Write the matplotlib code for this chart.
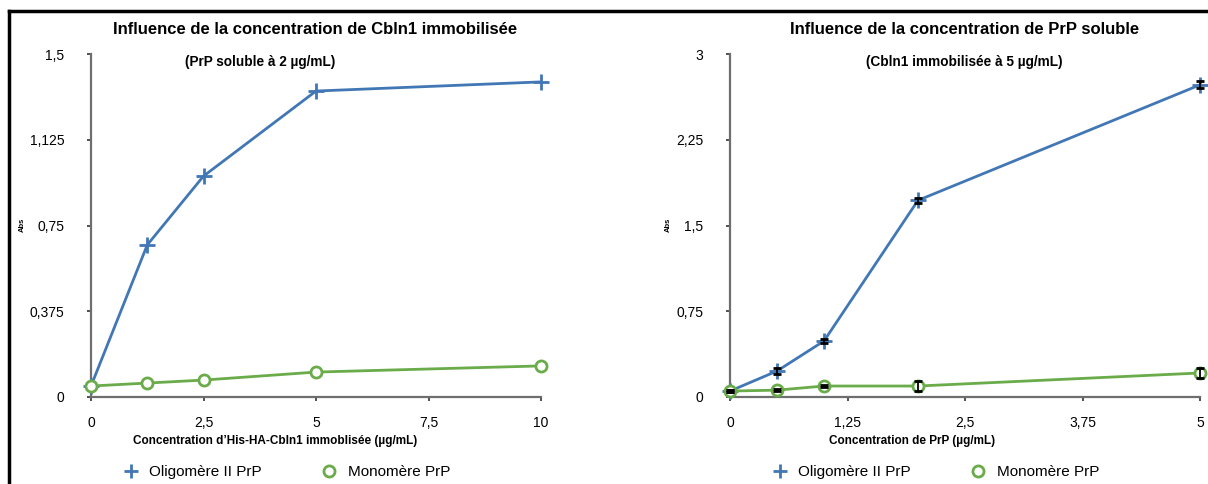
import numpy as np
import matplotlib
matplotlib.use("Agg")
import matplotlib.pyplot as plt
from matplotlib.lines import Line2D

plt.rcParams['font.family'] = ['Liberation Sans', 'DejaVu Sans']

# ======= Data =======
# left panel: immobilised Cbln1 concentration
x_cbln1 = [0, 1.25, 2.5, 5, 10]
oligo_cbln1 = [0.048, 0.665, 0.966, 1.338, 1.378]
mono_cbln1 = [0.048, 0.061, 0.074, 0.109, 0.136]

# right panel: soluble PrP concentration
x_prp = [0, 0.5, 1, 2, 5]
oligo_prp = [0.052, 0.227, 0.49, 1.72, 2.73]
oligo_prp_err = [0.01, 0.03, 0.02, 0.02, 0.03]
mono_prp = [0.052, 0.06, 0.096, 0.096, 0.21]
mono_prp_err = [0.01, 0.01, 0.01, 0.04, 0.04]

left_yticks = [0, 0.375, 0.75, 1.125, 1.5]
left_yticklabels = ['0', '0,375', '0,75', '1,125', '1,5']
left_xticks = [0, 2.5, 5, 7.5, 10]
left_xticklabels = ['0', '2,5', '5', '7,5', '10']

right_yticks = [0, 0.75, 1.5, 2.25, 3]
right_yticklabels = ['0', '0,75', '1,5', '2,25', '3']
right_xticks = [0, 1.25, 2.5, 3.75, 5]
right_xticklabels = ['0', '1,25', '2,5', '3,75', '5']

blue = '#4277b6'
green = '#6aab4a'
spine_col = '#6e6e6e'

fig = plt.figure(figsize=(12.08, 4.84), dpi=100)
W, H = 1208, 484

def px_axes(x0, x1, y0, y1):
    return fig.add_axes([x0 / W, 1 - y1 / H, (x1 - x0) / W, (y1 - y0) / H])

ax1 = px_axes(91, 541, 54, 397)
ax2 = px_axes(730, 1200, 54, 397)

def style(ax, xt, xtl, yt, ytl, xmax, ymax):
    for s in ['top', 'right']:
        ax.spines[s].set_visible(False)
    for s in ['left', 'bottom']:
        ax.spines[s].set_color(spine_col)
        ax.spines[s].set_linewidth(1.6)
    ax.set_xlim(0, xmax)
    ax.set_ylim(0, ymax)
    ax.set_xticks(xt)
    ax.set_xticklabels(xtl)
    ax.set_yticks(yt)
    ax.set_yticklabels(ytl)
    ax.tick_params(axis='both', direction='out', length=3, width=1.2,
                   color='#333333', labelsize=10)
    ax.tick_params(axis='y', pad=16)
    ax.tick_params(axis='x', pad=11)

style(ax1, left_xticks, left_xticklabels, left_yticks, left_yticklabels, 10, 1.5)
style(ax2, right_xticks, right_xticklabels, right_yticks, right_yticklabels, 5, 3)

# left panel
ax1.plot(x_cbln1, oligo_cbln1, color=blue, lw=2, marker='+', ms=11, mew=2, clip_on=False, zorder=3)
ax1.plot(x_cbln1, mono_cbln1, color=green, lw=2, marker='o', ms=8, mew=2,
         mfc='white', clip_on=False, zorder=4)

# right panel with error bars
ax2.plot(x_prp, oligo_prp, color=blue, lw=2, marker='+', ms=11, mew=2, clip_on=False, zorder=3)
ax2.errorbar(x_prp, oligo_prp, yerr=oligo_prp_err, fmt='none', ecolor='black',
             elinewidth=1.3, capsize=3, capthick=2, clip_on=False, zorder=5)
ax2.plot(x_prp, mono_prp, color=green, lw=2, marker='o', ms=8, mew=2,
         mfc='white', clip_on=False, zorder=4)
ax2.errorbar(x_prp, mono_prp, yerr=mono_prp_err, fmt='none', ecolor='black',
             elinewidth=1.3, capsize=3, capthick=2, clip_on=False, zorder=5)

# titles, subtitles, axis labels
fig.text(315 / W, 1 - 29 / H, 'Influence de la concentration de Cbln1 immobilisée',
         ha='center', va='center', fontsize=12, fontweight='bold')
fig.text(965 / W, 1 - 29 / H, 'Influence de la concentration de PrP soluble',
         ha='center', va='center', fontsize=12, fontweight='bold')
fig.text(260 / W, 1 - 62 / H, '(PrP soluble à 2 µg/mL)',
         ha='center', va='center', fontsize=9.8, fontweight='bold')
fig.text(964 / W, 1 - 62 / H, '(Cbln1 immobilisée à 5 µg/mL)',
         ha='center', va='center', fontsize=9.8, fontweight='bold')
fig.text(275 / W, 1 - 441 / H, 'Concentration d’His-HA-Cbln1 immoblisée (µg/mL)',
         ha='center', va='center', fontsize=8.5, fontweight='bold')
fig.text(912 / W, 1 - 441 / H, 'Concentration de PrP (µg/mL)',
         ha='center', va='center', fontsize=8.5, fontweight='bold')
fig.text(22 / W, 1 - 225 / H, 'Abs', ha='center', va='center', rotation=90,
         fontsize=5.5, fontweight='bold')
fig.text(668 / W, 1 - 225 / H, 'Abs', ha='center', va='center', rotation=90,
         fontsize=5.5, fontweight='bold')

# legends
handles = [Line2D([], [], color=blue, ls='none', marker='+', ms=10, mew=2),
           Line2D([], [], color=green, ls='none', marker='o', ms=8, mew=2, mfc='white')]
labels = ['Oligomère II PrP', 'Monomère PrP']
for cx in [286 / W, 935 / W]:
    fig.legend(handles, labels, loc='center', bbox_to_anchor=(cx, 1 - 472 / H),
               ncol=2, frameon=False, fontsize=11, columnspacing=3.8,
               handlelength=1.2, handletextpad=0.6)

# outer frame (left and top edges)
fig.add_artist(Line2D([9 / W, 9 / W], [0, 1 - 11 / H], color='black', lw=2.5,
                      transform=fig.transFigure))
fig.add_artist(Line2D([9 / W, 1], [1 - 11 / H, 1 - 11 / H], color='black', lw=2.5,
                      transform=fig.transFigure))

fig.savefig('out.png', dpi=100)
